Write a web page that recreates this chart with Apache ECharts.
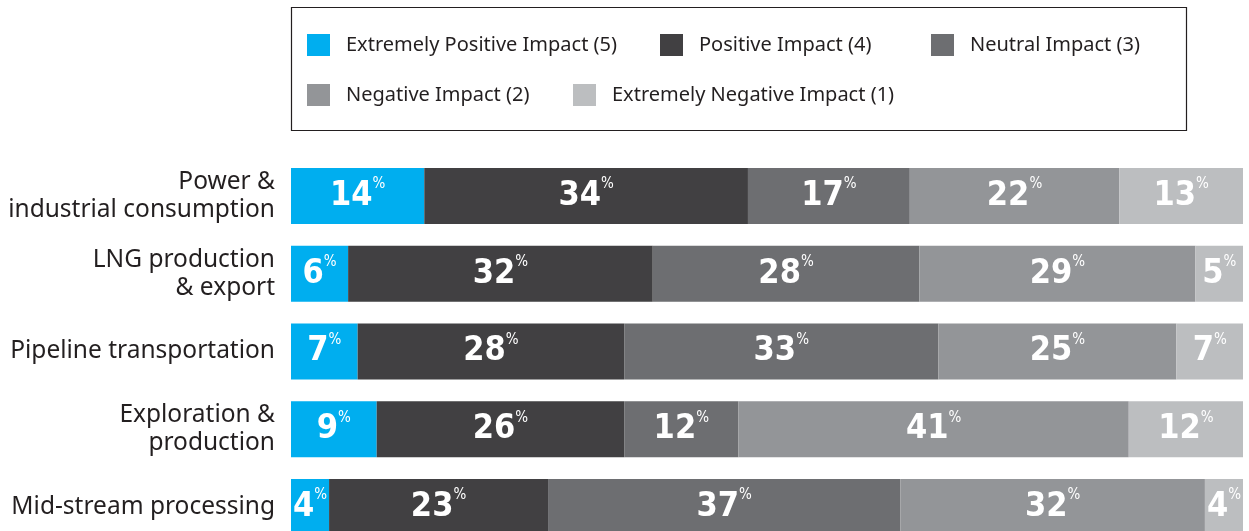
<!DOCTYPE html>
<html>
<head>
<meta charset="utf-8">
<script src="https://cdn.jsdelivr.net/npm/echarts@6/dist/echarts.min.js"></script>
<style>
  html, body { margin: 0; padding: 0; background: #fff; overflow: hidden; height: 531px; }
  /* the last bar runs past the bottom edge, so the chart is a bit taller than the window */
  #main { width: 1249px; height: 546px; }
</style>
</head>
<body>
<div id="main"></div>
<script>
// categories, top to bottom
const sectors = [
  "Power &\nindustrial consumption",
  "LNG production\n& export",
  "Pipeline transportation",
  "Exploration &\nproduction",
  "Mid-stream processing"
];

const levels = [
  "Extremely Positive Impact (5)",
  "Positive Impact (4)",
  "Neutral Impact (3)",
  "Negative Impact (2)",
  "Extremely Negative Impact (1)"
];

// percent of respondents per sector
const extremelyPositive = [14, 6, 7, 9, 4];
const positive = [34, 32, 28, 26, 23];
const neutral = [17, 28, 33, 12, 37];
const negative = [22, 29, 25, 41, 32];
const extremelyNegative = [13, 5, 7, 12, 4];

const values = [extremelyPositive, positive, neutral, negative, extremelyNegative];
const colors = ["#00aeef", "#414042", "#6d6e71", "#939598", "#bcbec0"];

// where each legend entry sits inside the box
const legendSpots = [
  { left: 307, top: 34 },
  { left: 660, top: 34 },
  { left: 931, top: 34 },
  { left: 307, top: 84 },
  { left: 573, top: 84 }
];

const numFont = "'DejaVu Sans Condensed', 'Roboto', sans-serif";

var chartDom = document.getElementById("main");
var myChart = echarts.init(chartDom);

const option = {
  animation: false,
  graphic: [
    {
      type: "rect",
      shape: { x: 291.5, y: 7.5, width: 895, height: 123 },
      style: { fill: "none", stroke: "#231f20", lineWidth: 1.2 }
    }
  ],
  legend: levels.map((name, i) => ({
    data: [name],
    left: legendSpots[i].left,
    top: legendSpots[i].top,
    padding: 0,
    icon: "rect",
    itemWidth: 23,
    itemHeight: 22,
    textStyle: {
      fontFamily: "Noto Sans",
      fontSize: 20,
      color: "#231f20",
      padding: [0, 0, 0, 11]
    }
  })),
  grid: {
    left: 291,
    right: 6,
    top: 157,
    bottom: 0,
    containLabel: false
  },
  xAxis: {
    type: "value",
    min: 0,
    max: 100,
    show: false
  },
  yAxis: {
    type: "category",
    data: sectors,
    inverse: true,
    axisLine: { show: false },
    axisTick: { show: false },
    axisLabel: {
      margin: 16,
      fontFamily: "Noto Sans",
      fontSize: 24.5,
      lineHeight: 28,
      color: "#231f20",
      align: "right"
    }
  },
  series: levels.map((name, i) => ({
    name: name,
    type: "bar",
    stack: "total",
    barWidth: 56,
    data: values[i],
    itemStyle: { color: colors[i] },
    label: {
      show: true,
      position: "inside",
      color: "#fff",
      textBorderWidth: 0,
      formatter: (p) => "{n|" + p.value + "}{p|%}",
      rich: {
        n: {
          fontFamily: numFont,
          fontWeight: "bold",
          fontSize: 34,
          color: "#fff",
          lineHeight: 38
        },
        p: {
          fontFamily: numFont,
          fontSize: 15,
          color: "#fff",
          verticalAlign: "top",
          padding: [0, 0, 16, 0]
        }
      }
    }
  }))
};

myChart.setOption(option);
</script>
</body>
</html>
